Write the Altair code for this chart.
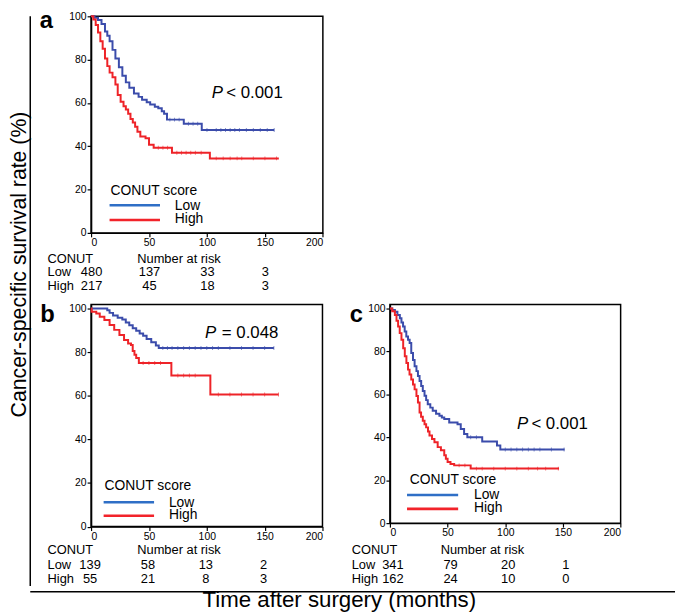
import altair as alt
import pandas as pd

# ---------------- data ----------------
# Panel a
A_LOW_T = [0, 3, 6, 9, 12, 14, 16, 18.5, 21, 24, 27, 30, 33, 37, 41, 44, 48, 51, 55, 58, 61, 63, 65.5, 80, 95.5, 158]
A_LOW_S = [100, 99.3, 98.3, 96.5, 93, 91, 88.5, 84.5, 80.5, 76.5, 72.6, 69.5, 67, 64.4, 62.8, 61.5, 60.3, 59.3, 58.2, 57.5, 56.2, 55, 52.3, 50.4, 47.5, 47.5]
A_HIGH_T = [0, 2, 4, 6, 8, 10, 12, 14, 16, 18.5, 21, 23, 25.5, 28, 30, 32, 34, 36, 38, 40, 42.5, 47, 50, 54, 69.8, 102.5, 162]
A_HIGH_S = [100, 98.5, 96, 92.5, 88.5, 85, 80.5, 77, 74, 71.9, 68.5, 63.7, 60.5, 58.5, 57, 55, 52.6, 51, 49, 46.7, 44.5, 43.7, 40.7, 39.3, 37, 34.4, 34.4]
A_LOW_CENS = [68, 72, 76, 84, 88, 92, 100, 108, 112, 116, 120, 124, 128, 134, 140, 146, 152, 158]
A_HIGH_CENS = [58, 62, 66, 74, 78, 82, 86, 90, 95, 108, 114, 120, 126, 130, 140, 150, 160]

# Panel b
B_LOW_T = [0, 14, 16, 19, 23, 27, 30, 33, 36, 39, 42, 45, 48, 52, 56, 58.5, 158]
B_LOW_S = [100, 99.2, 98, 96.8, 95.8, 95, 93.6, 92.3, 91, 89.8, 88.5, 87.5, 86, 84.5, 83, 81.9, 81.9]
B_HIGH_T = [0, 0.5, 4.5, 7.5, 11.5, 16, 20, 24.5, 28.5, 32, 34.5, 36, 37.5, 39, 41.3, 69.4, 103.1, 162]
B_HIGH_S = [100, 98.5, 97.7, 96.2, 94.7, 92.4, 90.2, 87.9, 85.6, 84, 83.3, 80.5, 78.8, 77.3, 75, 69.3, 60.6, 60.6]
B_LOW_CENS = [62, 66, 70, 75, 80, 85, 90, 95, 100, 105, 110, 120, 130, 140, 150, 158]
B_HIGH_CENS = [45, 50, 55, 60, 75, 80, 85, 90, 110, 120, 130, 140, 150, 162]

# Panel c
C_LOW_T = [0, 2, 4.3, 6.5, 8.6, 10, 11.4, 12.8, 14.2, 15.7, 17.1, 18.5, 20, 21.4, 23, 24.3, 25.7, 27.1, 28.5, 30, 31.4, 32.8, 35, 37.1, 40, 42.9, 45, 47.1, 51.4, 58.6, 61.4, 64.3, 67.1, 80, 92.8, 95.7, 151.4]
C_LOW_S = [100, 99.3, 98.5, 97, 95.4, 93.5, 91.6, 89.3, 86.9, 85.4, 83.9, 79.2, 76, 73.1, 70.8, 68.5, 66.2, 63.9, 61.6, 59.3, 57.3, 55.4, 53.8, 52.3, 51, 50, 49.2, 48.5, 46.9, 46.1, 43.8, 41.5, 40, 38, 36.2, 34.3, 34.3]
C_HIGH_T = [0, 2, 4.3, 5.7, 7.1, 8.5, 10, 11.5, 12.9, 14.3, 15.7, 17, 18.5, 20, 21.4, 23, 24.3, 25.7, 27, 28.5, 30, 31.4, 33, 34.3, 36.5, 38.6, 41.4, 44.2, 47.1, 48.5, 50, 52.5, 55.7, 70, 146.6]
C_HIGH_S = [100, 98.7, 96.9, 94.3, 91.6, 88.5, 85.4, 81.5, 77.7, 74.6, 71.5, 69.2, 66.9, 64.6, 62.3, 59.2, 56.2, 51.5, 49.6, 47.7, 46.1, 44.6, 42.7, 40.8, 39.2, 37.7, 35.4, 33.9, 31.6, 30, 28.5, 27.5, 26.9, 25.4, 25.4]
C_LOW_CENS = [70, 75, 100, 105, 110, 115, 120, 125, 130, 140, 151]
C_HIGH_CENS = [60, 65, 75, 80, 90, 100, 110, 120, 128, 135, 146]

# Number at risk tables
RISK_T = [0, 50, 100, 150]
A_RISK_LOW = [480, 137, 33, 3]
A_RISK_HIGH = [217, 45, 18, 3]
B_RISK_LOW = [139, 58, 13, 2]
B_RISK_HIGH = [55, 21, 8, 3]
C_RISK_LOW = [341, 79, 20, 1]
C_RISK_HIGH = [162, 24, 10, 0]

# P values (text, x in months, y in %)
P_REST = ["< 0.001", "= 0.048", "< 0.001"]
P_POS_T = [104.2, 98.5, 110.2]
P_POS_S = [62.5, 86.4, 43.8]

GROUPS = ["Low", "High"]
X_TICKS = [0, 50, 100, 150, 200]
Y_TICKS = [0, 20, 40, 60, 80, 100]

# ---------------- styling ----------------
FONT = "Liberation Sans"
BLUE = "#3b4cab"
RED = "#ee2328"
LEG_BLUE = "#2f6fc6"
LEG_RED = "#f2232a"
ONE = pd.DataFrame({"k": [0]})
NOSTROKE = alt.ViewBackground(stroke="transparent")


def txt(text, x, y, **kw):
    return alt.Chart(ONE).mark_text(text=text, **kw).encode(x=alt.value(x), y=alt.value(y))


def hrule(x, x2, y, color, width):
    return alt.Chart(ONE).mark_rule(color=color, strokeWidth=width).encode(
        x=alt.value(x), x2=alt.value(x2), y=alt.value(y))


def step_value(ts, ss, t):
    v = ss[0]
    for ti, si in zip(ts, ss):
        if ti <= t:
            v = si
    return v


def panel(letter, low, high, cens_low, cens_high, risk_low, risk_high, pi, W, H, ymax, lay):
    curves = pd.DataFrame({
        "t": low[0] + high[0],
        "s": low[1] + high[1],
        "grp": ["Low"] * len(low[0]) + ["High"] * len(high[0]),
    })
    cens = pd.DataFrame({
        "t": cens_low + cens_high,
        "s": [step_value(low[0], low[1], t) for t in cens_low]
             + [step_value(high[0], high[1], t) for t in cens_high],
        "grp": ["Low"] * len(cens_low) + ["High"] * len(cens_high),
    })
    risk = pd.DataFrame({"t": RISK_T, "low": risk_low, "high": risk_high})

    color = alt.Color("grp:N", scale=alt.Scale(domain=GROUPS, range=[BLUE, RED]), legend=None)
    x = alt.X("t:Q", scale=alt.Scale(domain=[0, 200], nice=False),
              axis=alt.Axis(values=X_TICKS, title=None))
    y = alt.Y("s:Q", scale=alt.Scale(domain=[0, ymax], nice=False),
              axis=alt.Axis(values=Y_TICKS, title=None))

    lines = alt.Chart(curves).mark_line(interpolate="step-after", strokeWidth=2).encode(
        x=x, y=y, color=color)
    ticks = alt.Chart(cens).mark_tick(orient="vertical", size=4, thickness=1, opacity=0.6).encode(
        x="t:Q", y="s:Q", color=color)

    p1 = alt.Chart(ONE).mark_text(text="P", fontStyle="italic", fontSize=17, align="left",
                                  baseline="alphabetic").encode(
        x=alt.datum(P_POS_T[pi]), y=alt.datum(P_POS_S[pi]))
    p2 = alt.Chart(ONE).mark_text(text=P_REST[pi], fontSize=17, align="left", baseline="alphabetic",
                                  dx=lay["pdx"]).encode(
        x=alt.datum(P_POS_T[pi]), y=alt.datum(P_POS_S[pi]))

    lg = lay["legend"]  # title_x, title_up, line_x0, line_x1, blue_up, red_up, label_x
    legend = [
        txt("CONUT score", lg[0], H - lg[1], fontSize=14, align="left", baseline="middle"),
        hrule(lg[2], lg[3], H - lg[4], LEG_BLUE, 2.6),
        hrule(lg[2], lg[3], H - lg[5], LEG_RED, 2.6),
        txt("Low", lg[6], H - lg[4] + 0.5, fontSize=14, align="left", baseline="middle"),
        txt("High", lg[6], H - lg[5] - 1, fontSize=14, align="left", baseline="middle"),
    ]

    r = lay["rows"]
    ndx = lay["ndx"]
    table = [
        txt("CONUT", lay["label_dx"], H + r[0], fontSize=13, align="left", baseline="alphabetic"),
        txt("Number at risk", lay["nar_dx"], H + r[0], fontSize=13, align="left", baseline="alphabetic"),
        txt("Low", lay["label_dx"], H + r[1], fontSize=13, align="left", baseline="alphabetic"),
        txt("High", lay["label_dx"], H + r[2], fontSize=13, align="left", baseline="alphabetic"),
        alt.Chart(risk).mark_text(fontSize=13, dx=ndx, baseline="alphabetic").encode(
            x="t:Q", y=alt.value(H + r[1]), text="low:Q"),
        alt.Chart(risk).mark_text(fontSize=13, dx=ndx, baseline="alphabetic").encode(
            x="t:Q", y=alt.value(H + r[2]), text="high:Q"),
    ]

    lab = txt(letter, lay["letter"][0], lay["letter"][1], fontSize=24, fontWeight="bold",
              align="left", baseline="alphabetic")

    return alt.layer(lines, ticks, p1, p2, *legend, *table, lab).properties(width=W, height=H)


panel_a = panel("a", (A_LOW_T, A_LOW_S), (A_HIGH_T, A_HIGH_S), A_LOW_CENS, A_HIGH_CENS,
                A_RISK_LOW, A_RISK_HIGH, 0, 234.4, 219, 100,
                {"letter": (-52, 12), "label_dx": -44, "nar_dx": 46.7, "rows": (30, 44, 57.5),
                 "legend": (19.7, 42.5, 18.7, 69.7, 28, 13, 84.7), "pdx": 14.6, "ndx": 0.5})
panel_b = panel("b", (B_LOW_T, B_LOW_S), (B_HIGH_T, B_HIGH_S), B_LOW_CENS, B_HIGH_CENS,
                B_RISK_LOW, B_RISK_HIGH, 1, 234, 224.5, 101.8,
                {"letter": (-51.3, 18), "label_dx": -44, "nar_dx": 46.7, "rows": (28, 43, 56.7),
                 "legend": (13.7, 40.5, 12.7, 63.7, 24.6, 11, 78.7), "pdx": 17, "ndx": -1})
panel_c = panel("c", (C_LOW_T, C_LOW_S), (C_HIGH_T, C_HIGH_S), C_LOW_CENS, C_HIGH_CENS,
                C_RISK_LOW, C_RISK_HIGH, 2, 233.3, 221, 101.8,
                {"letter": (-40.7, 17.3), "label_dx": -38.7, "nar_dx": 51.3, "rows": (31.6, 46.6, 60.3),
                 "legend": (20, 43.5, 17.3, 69, 28.4, 14.4, 85), "pdx": 14.5, "ndx": 3})

grid = alt.vconcat(
    alt.hconcat(panel_a),
    alt.hconcat(panel_b, panel_c, spacing=24.2),
    spacing=7.5,
)

H_L = 576
left_block = alt.layer(
    alt.Chart(ONE).mark_rule(color="black", strokeWidth=1.5).encode(
        x=alt.value(23), y=alt.value(0), y2=alt.value(H_L)),
    txt("Cancer-specific survival rate (%)", 19, 251, angle=270, fontSize=21.5,
        align="center", baseline="alphabetic"),
).properties(width=22.5, height=H_L, view=NOSTROKE)

bottom_block = alt.layer(
    hrule(23, 675, 0, "black", 1.5),
    txt("Time after surgery (months)", 335.5, 15.5, fontSize=22.5, align="center",
        baseline="alphabetic"),
).properties(width=675, height=18, view=NOSTROKE)

chart = alt.vconcat(
    alt.hconcat(left_block, grid, spacing=6.5),
    bottom_block,
    spacing=0,
).properties(
    padding={"left": -1.5, "top": -3, "right": 0, "bottom": 0}
).configure(
    font=FONT
).configure_axis(
    labelFontSize=10.5, labelColor="black", tickColor="black", domainColor="black",
    tickSize=4, tickWidth=1.2, domainWidth=1.5, labelPadding=1, grid=False, labelFont=FONT
).configure_view(
    stroke="black", strokeWidth=1.5
)

chart.save("out.html", embed_options={"renderer": "svg", "actions": False})
